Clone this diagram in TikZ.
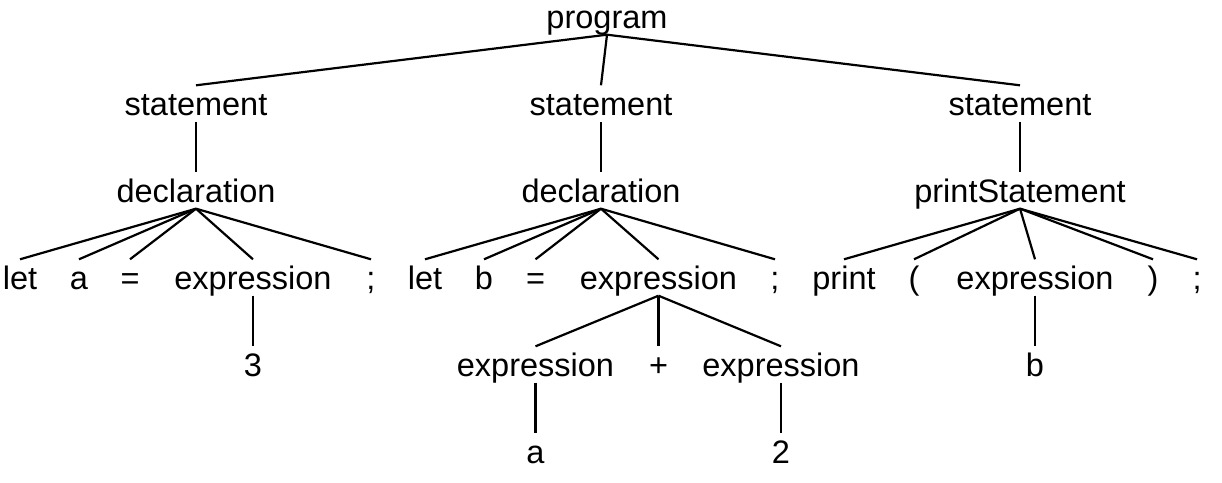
\documentclass[tikz,border=0pt]{standalone}
\usepackage{fontspec}
\setmainfont{Liberation Sans}
\begin{document}
\begin{tikzpicture}[x=1pt,y=1pt,
  tn/.style={anchor=base, inner sep=0pt, text height=29.5pt, text depth=6.5pt,
    font=\fontsize{32.5}{39}\selectfont},
  edge/.style={line width=2.2pt, black}]
\useasboundingbox (0,0) rectangle (1222,-482);
% level 0
\node[tn] (prog) at (607,-28) {program};
% level 1
\node[tn] (s1) at (196,-115) {statement};
\node[tn] (s2) at (601,-115) {statement};
\node[tn] (s3) at (1020,-115) {statement};
% level 2
\node[tn] (d1) at (196,-202) {declaration};
\node[tn] (d2) at (601,-202) {declaration};
\node[tn] (ps) at (1020,-202) {printStatement};
% level 3
\node[tn] (let1) at (20,-289) {let};
\node[tn] (a1) at (79,-289) {a};
\node[tn] (eq1) at (130,-289) {=};
\node[tn] (e1) at (253,-289) {expression};
\node[tn] (sc1) at (371,-289) {;};
\node[tn] (let2) at (425,-289) {let};
\node[tn] (b2) at (484,-289) {b};
\node[tn] (eq2) at (535.5,-289) {=};
\node[tn] (e2) at (658.5,-289) {expression};
\node[tn] (sc2) at (775,-289) {;};
\node[tn] (pr) at (844,-289) {print};
\node[tn] (lp) at (914,-289) {(};
\node[tn] (e3) at (1035,-289) {expression};
\node[tn] (rp) at (1153,-289) {)};
\node[tn] (sc3) at (1197,-289) {;};
% level 4
\node[tn] (three) at (253,-376) {3};
\node[tn] (e4) at (535.5,-376) {expression};
\node[tn] (plus) at (658.5,-376) {+};
\node[tn] (e5) at (781,-376) {expression};
\node[tn] (bb) at (1035,-376) {b};
% level 5
\node[tn] (aa) at (535.5,-463) {a};
\node[tn] (two) at (781,-463) {2};
% edges
\foreach \p/\c in {prog/s1, prog/s2, prog/s3,
  s1/d1, s2/d2, s3/ps,
  d1/let1, d1/a1, d1/eq1, d1/e1, d1/sc1,
  d2/let2, d2/b2, d2/eq2, d2/e2, d2/sc2,
  ps/pr, ps/lp, ps/e3, ps/rp, ps/sc3,
  e1/three, e2/e4, e2/plus, e2/e5, e3/bb,
  e4/aa, e5/two}
  \draw[edge] (\p.south) -- (\c.north);
\end{tikzpicture}
\end{document}
